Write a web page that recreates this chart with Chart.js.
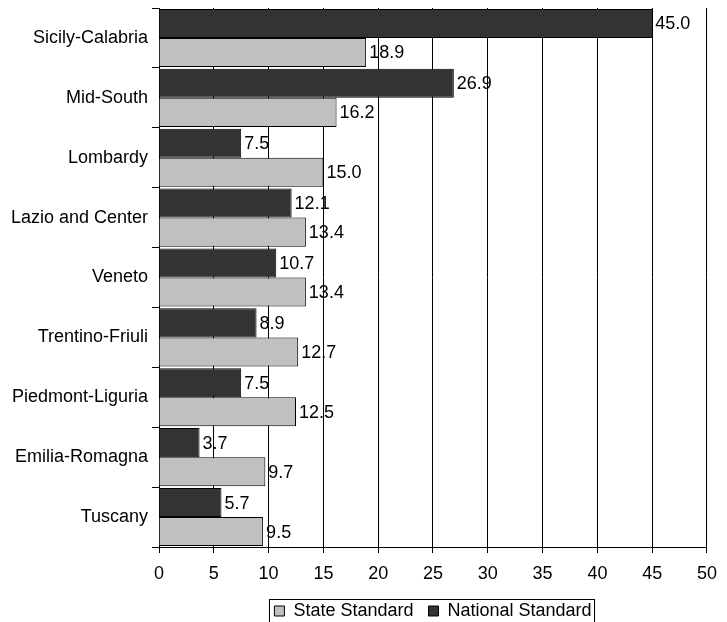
<!DOCTYPE html>
<html>
<head>
<meta charset="utf-8">
<script src="https://cdn.jsdelivr.net/npm/chart.js@4"></script>
<style>
  html, body { margin: 0; padding: 0; background: #fff; }
  #wrap { width: 727px; height: 622px; }
</style>
</head>
<body>
<div id="wrap"><canvas id="chart" width="727" height="622"></canvas></div>
<script>
// chart data
const regions = ['Sicily-Calabria', 'Mid-South', 'Lombardy', 'Lazio and Center', 'Veneto',
    'Trentino-Friuli', 'Piedmont-Liguria', 'Emilia-Romagna', 'Tuscany'];
const nationalStandard = [45.0, 26.9, 7.5, 12.1, 10.7, 8.9, 7.5, 3.7, 5.7];
const stateStandard = [18.9, 16.2, 15.0, 13.4, 13.4, 12.7, 12.5, 9.7, 9.5];
const xTicks = [0, 5, 10, 15, 20, 25, 30, 35, 40, 45, 50];

const FONT = "'Liberation Sans', Arial, sans-serif";
const FONT_SIZE = 18;
Chart.defaults.font.family = FONT;
Chart.defaults.font.size = FONT_SIZE;
Chart.defaults.color = '#000';

// value labels at the end of each bar
const valueLabels = {
    id: 'valueLabels',
    afterDatasetsDraw(chart) {
        const ctx = chart.ctx;
        ctx.save();
        ctx.font = FONT_SIZE + 'px ' + FONT;
        ctx.fillStyle = '#000';
        ctx.textAlign = 'left';
        ctx.textBaseline = 'middle';
        chart.data.datasets.forEach((ds, i) => {
            chart.getDatasetMeta(i).data.forEach((bar, j) => {
                ctx.fillText(ds.data[j].toFixed(1), bar.x + 3, bar.y + 1);
            });
        });
        ctx.restore();
    }
};

// box round the legend
const legendBorder = {
    id: 'legendBorder',
    afterDraw(chart) {
        const boxes = chart.legend.legendHitBoxes;
        if (!boxes || !boxes.length) return;
        const left = Math.min(...boxes.map(b => b.left)) - 5;
        const right = Math.max(...boxes.map(b => b.left + b.width)) + 3;
        const top = boxes[0].top - 3;
        const bottom = boxes[0].top + boxes[0].height + 6;
        const ctx = chart.ctx;
        ctx.save();
        ctx.strokeStyle = '#000';
        ctx.lineWidth = 1;
        ctx.strokeRect(Math.round(left) + 0.5, Math.round(top) + 0.5, Math.round(right - left), Math.round(bottom - top));
        ctx.restore();
    }
};

new Chart(document.getElementById('chart').getContext('2d'), {
    type: 'bar',
    data: {
        labels: regions,
        datasets: [
            {
                label: 'National Standard',
                data: nationalStandard,
                backgroundColor: '#333333',
                borderColor: '#000',
                borderWidth: 1
            }, {
                label: 'State Standard',
                data: stateStandard,
                backgroundColor: '#c0c0c0',
                borderColor: '#000',
                borderWidth: 1
            }
        ]
    },
    options: {
        indexAxis: 'y',
        responsive: false,
        animation: false,
        layout: { padding: { top: 8, right: 17, left: 0, bottom: -8 } },
        datasets: { bar: { categoryPercentage: 0.97, barPercentage: 1.0 } },
        scales: {
            x: {
                min: 0,
                max: 50,
                afterBuildTicks: scale => { scale.ticks = xTicks.map(v => ({ value: v })); },
                grid: { color: '#000', lineWidth: 1, tickLength: 6 },
                border: { color: '#000', width: 1 },
                ticks: { padding: 10, maxRotation: 0 },
                afterFit: scale => { scale.height = 40; }
            },
            y: {
                grid: { drawOnChartArea: false, offset: true, color: '#000', tickLength: 7 },
                border: { color: '#000', width: 1 },
                ticks: { padding: 4 },
                afterFit: scale => {
                    scale.width = 159;
                    scale.paddingTop = 0;
                    scale.paddingBottom = 0;
                }
            }
        },
        plugins: {
            legend: {
                position: 'bottom',
                fullSize: false,
                reverse: true,
                labels: {
                    boxWidth: 10,
                    boxHeight: 10,
                    padding: 15,
                    color: '#000'
                }
            },
            tooltip: { enabled: false }
        }
    },
    plugins: [valueLabels, legendBorder]
});
</script>
</body>
</html>
